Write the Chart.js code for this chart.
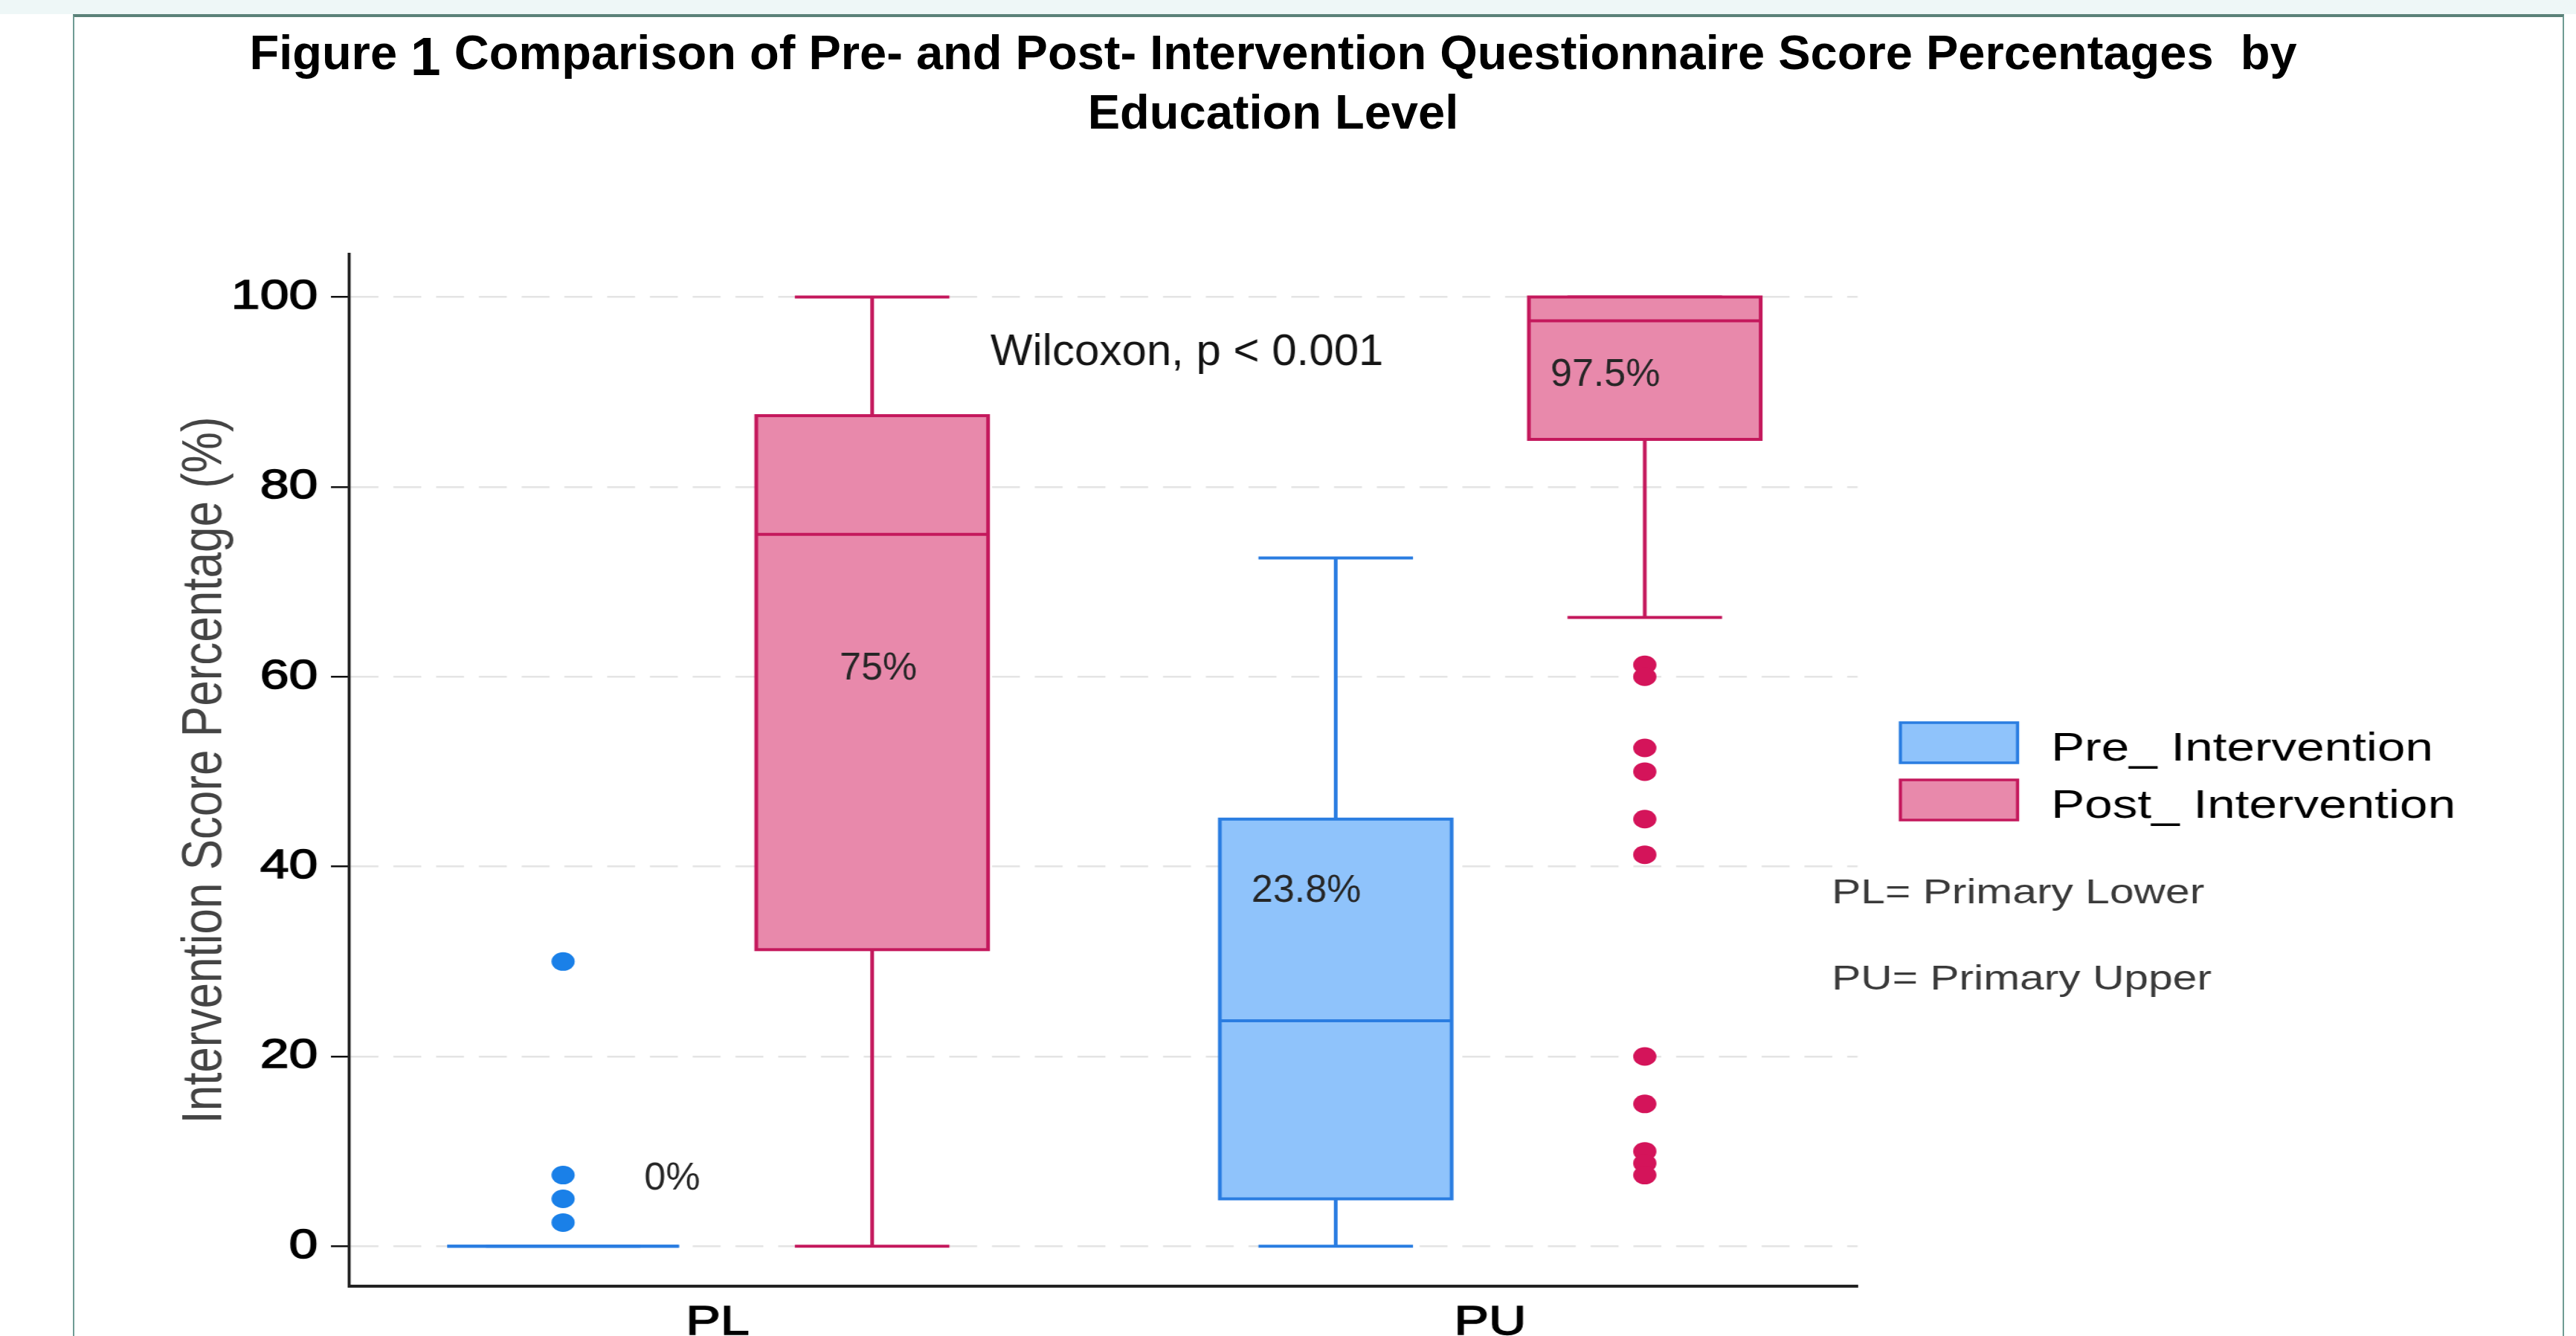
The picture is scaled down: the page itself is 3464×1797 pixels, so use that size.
<!DOCTYPE html>
<html>
<head>
<meta charset="utf-8">
<title>Pre- and Post- Intervention Score Percentages</title>
<script src="https://cdn.jsdelivr.net/npm/chart.js@4.4.1/dist/chart.umd.min.js"></script>
<style>
  html, body { margin: 0; padding: 0; background: #fff; }
  body { width: 3464px; height: 1797px; position: relative; overflow: hidden;
         font-family: "Liberation Sans", Arial, sans-serif; }
  #band  { position: absolute; left: 0; top: 0; width: 3464px; height: 19px; background: #eef7f7; }
  #frame { position: absolute; left: 98px; top: 19px; width: 3350px; height: 1820px; box-sizing: border-box;
           border-top: 4px solid #5b8178; border-left: 2px solid #6f9c94; border-right: 2px solid #6f9c94; }
  /* the plot itself was stretched sideways in the original figure */
  #stretch { position: absolute; left: 0; top: 0; width: 2771px; height: 1797px;
             transform: scaleX(1.25); transform-origin: 0 0; }
  #title { position: absolute; left: 0; top: 31px; width: 3424px; text-align: center;
           font-weight: bold; font-size: 65px; line-height: 80px; color: #000; }
  #title .num { font-size: 73px; line-height: 0; position: relative; top: 8px; }
</style>
</head>
<body>
<div id="band"></div>
<div id="frame"></div>
<div id="stretch"><canvas id="c" width="2771" height="1797"></canvas></div>
<div id="title">Figure <span class="num">1</span> Comparison of Pre- and Post- Intervention Questionnaire Score Percentages&nbsp; by<br>Education Level</div>

<script>
// ── Données ─────────────────────────────────────────────────────
const CATEGORIES = ["PL", "PU"];
const SERIES     = ["Pre_ Intervention", "Post_ Intervention"];
// [min, q1, médiane, q3, max] par catégorie
const PRE_STATS  = [[0, 0, 0, 0, 0], [0, 5, 23.75, 45, 72.5]];
const POST_STATS = [[0, 31.25, 75, 87.5, 100], [66.25, 85, 97.5, 100, 100]];
const PRE_OUTLIERS  = [[30, 7.5, 5, 2.5], []];
const POST_OUTLIERS = [[], [61.25, 60, 52.5, 50, 45, 41.25, 20, 15, 10, 8.75, 7.5]];
const MEDIAN_LABELS = [["0%", "75%"], ["23.8%", "97.5%"]];   // [catégorie][série]
const Y_TICKS = [0, 20, 40, 60, 80, 100];
const FOOTNOTES = ["PL= Primary Lower", "PU= Primary Upper"];
const TEST_LABEL = "Wilcoxon, p < 0.001";

// ── Style ───────────────────────────────────────────────────────
const STRETCH = 1.25;
const FONT = "'Liberation Sans', Arial, sans-serif";
const FILL = ["#8fc3fb", "#e889ab"];
const LINE = ["#2a7de1", "#c4185c"];
const DOT  = ["#1a80e8", "#d4145a"];
const DODGE = 0.2, BOX_W = 0.3, CAP_W = 0.2;

// positions des annotations (unités des axes)
const MEDIAN_LABEL_AT = [[[0.905, 5.95], [1.158, 59.7]], [[1.691, 36.3], [2.078, 90.6]]];
const TEST_LABEL_AT = [1.353, 92.8];

const STATS = [PRE_STATS, POST_STATS];
const OUTLIERS = [PRE_OUTLIERS, POST_OUTLIERS];

function xPos(c, s) { return c + 1 + (s === 0 ? -DODGE : DODGE); }

// texte non étiré (ajouté après coup sur la figure d'origine)
function plainText(ctx, text, x, y, font, color) {
  ctx.save();
  ctx.translate(x, y);
  ctx.scale(1 / STRETCH, 1);
  ctx.font = font;
  ctx.fillStyle = color;
  ctx.textAlign = "left";
  ctx.textBaseline = "alphabetic";
  ctx.fillText(text, 0, 0);
  ctx.restore();
}

const boxPlugin = {
  id: "boxes",
  beforeDatasetsDraw(chart) {
    const { ctx, scales: { x, y } } = chart;
    ctx.save();
    ctx.lineWidth = 4;
    STATS.forEach((stats, s) => {
      stats.forEach(([mn, q1, med, q3, mx], c) => {
        const cx = x.getPixelForValue(xPos(c, s));
        const hw = x.getPixelForValue(xPos(c, s) + BOX_W / 2) - cx;
        const cw = x.getPixelForValue(xPos(c, s) + CAP_W / 2) - cx;
        ctx.strokeStyle = LINE[s];
        // moustaches
        ctx.beginPath();
        ctx.moveTo(cx, y.getPixelForValue(q3)); ctx.lineTo(cx, y.getPixelForValue(mx));
        ctx.moveTo(cx, y.getPixelForValue(q1)); ctx.lineTo(cx, y.getPixelForValue(mn));
        ctx.moveTo(cx - cw, y.getPixelForValue(mx)); ctx.lineTo(cx + cw, y.getPixelForValue(mx));
        ctx.moveTo(cx - cw, y.getPixelForValue(mn)); ctx.lineTo(cx + cw, y.getPixelForValue(mn));
        ctx.stroke();
        // boîte
        const top = y.getPixelForValue(q3), bot = y.getPixelForValue(q1);
        ctx.fillStyle = FILL[s];
        ctx.fillRect(cx - hw, top, 2 * hw, bot - top);
        ctx.strokeRect(cx - hw, top, 2 * hw, bot - top);
        // médiane
        ctx.beginPath();
        ctx.moveTo(cx - hw, y.getPixelForValue(med)); ctx.lineTo(cx + hw, y.getPixelForValue(med));
        ctx.stroke();
      });
    });
    ctx.restore();
  },
  afterDraw(chart) {
    const { ctx, chartArea, scales: { x, y } } = chart;
    // étiquettes des médianes
    MEDIAN_LABELS.forEach((row, c) => row.forEach((txt, s) => {
      const [vx, vy] = MEDIAN_LABEL_AT[c][s];
      plainText(ctx, txt, x.getPixelForValue(vx), y.getPixelForValue(vy), `52px ${FONT}`, "#262626");
    }));
    plainText(ctx, TEST_LABEL, x.getPixelForValue(TEST_LABEL_AT[0]), y.getPixelForValue(TEST_LABEL_AT[1]),
              `60px ${FONT}`, "#141414");

    // légende
    ctx.save();
    const lx = chartArea.right + 46;
    SERIES.forEach((name, s) => {
      const ty = 972 + s * 77;
      ctx.fillStyle = FILL[s];
      ctx.fillRect(lx, ty, 126, 54);
      ctx.lineWidth = 3.5;
      ctx.strokeStyle = LINE[s];
      ctx.strokeRect(lx, ty, 126, 54);
      ctx.fillStyle = "#000";
      ctx.font = `54px ${FONT}`;
      ctx.textBaseline = "alphabetic";
      ctx.fillText(name, lx + 162, ty + 51);
    });
    // notes
    ctx.fillStyle = "#3a3a3a";
    ctx.font = `47px ${FONT}`;
    FOOTNOTES.forEach((t, i) => ctx.fillText(t, chartArea.right - 28, 1215 + i * 116));
    ctx.restore();
  },
};

const datasets = OUTLIERS.map((series, s) => ({
  label: SERIES[s],
  data: series.flatMap((vals, c) => vals.map(v => ({ x: xPos(c, s), y: v }))),
  backgroundColor: DOT[s],
  borderWidth: 0,
  pointRadius: 12.5,
}));

new Chart(document.getElementById("c"), {
  type: "scatter",
  data: { datasets },
  plugins: [boxPlugin],
  options: {
    responsive: false,
    animation: false,
    events: [],
    layout: { padding: { top: 342, right: 772.6, bottom: 0, left: 0 } },
    plugins: { legend: { display: false }, tooltip: { enabled: false }, title: { display: false } },
    scales: {
      x: {
        type: "linear",
        min: 0.5236,
        max: 2.4755,
        afterBuildTicks: s => { s.ticks = CATEGORIES.map((_, i) => ({ value: i + 1 })); },
        afterFit: s => { s.height = 67; },
        grid: { display: false, drawTicks: false },
        border: { display: true, color: "#222", width: 4 },
        ticks: {
          padding: 16,
          color: "#000",
          textStrokeColor: "#000",
          textStrokeWidth: 1.4,
          font: { family: FONT, size: 56 },
          callback: v => CATEGORIES[v - 1],
        },
      },
      y: {
        min: -4.2,
        max: 104.5,
        afterBuildTicks: s => { s.ticks = Y_TICKS.map(v => ({ value: v })); },
        afterFit: s => { s.width = 376; },
        grid: { color: "#e4e4e4", lineWidth: 2.5, tickLength: 20, tickColor: "#111", tickWidth: 2.5 },
        border: { display: true, color: "#222", width: 3.2, dash: [30, 16] },
        ticks: {
          padding: 14,
          color: "#000",
          textStrokeColor: "#000",
          textStrokeWidth: 1.4,
          font: { family: FONT, size: 56 },
        },
        title: {
          display: true,
          text: "Intervention Score Percentage (%)",
          color: "#444",
          font: { family: FONT, size: 62, lineHeight: 1 },
          padding: { top: 190, bottom: 0 },
        },
      },
    },
  },
});
</script>
</body>
</html>
